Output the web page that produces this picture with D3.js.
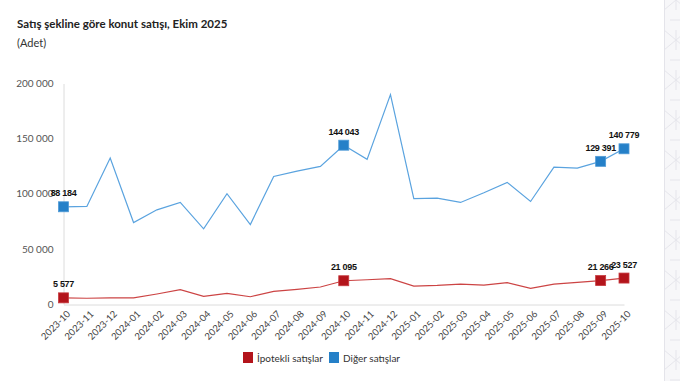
<!DOCTYPE html>
<html><head><meta charset="utf-8">
<script src="https://cdn.jsdelivr.net/npm/d3@7"></script>
<style>body{margin:0;background:#fff;}svg{display:block;}</style>
</head><body>
<svg id="c" width="680" height="381"></svg>
<script>
const months = ["2023-10","2023-11","2023-12","2024-01","2024-02","2024-03","2024-04","2024-05","2024-06","2024-07","2024-08","2024-09","2024-10","2024-11","2024-12","2025-01","2025-02","2025-03","2025-04","2025-05","2025-06","2025-07","2025-08","2025-09","2025-10"];
const ipotekli = [5577,5200,5500,5600,9100,13000,7000,9700,6600,11500,13300,15400,21095,22000,23000,16300,16900,18100,17200,19300,14200,18100,19700,21266,23527];
const diger = [88184,88500,132400,73900,85400,92100,68200,100000,72100,115700,120500,124800,144043,131200,190000,95500,96000,92100,100900,110300,93000,124200,123300,129391,140779];
const yTicks = [0,50000,100000,150000,200000];
const labelled = [0,12,23,24];
const seriesNames = ["İpotekli satışlar","Diğer satışlar"];

const svg = d3.select("#c");
const fmt = v => d3.format(",")(v).replace(/,/g," ");
const FONT = "Lato, Open Sans, sans-serif";

// decorative pattern on the right
const defs = svg.append("defs");
const pat = defs.append("pattern").attr("id","pt").attr("width",24).attr("height",40).attr("patternUnits","userSpaceOnUse").attr("x",664);
pat.append("rect").attr("width",24).attr("height",40).attr("fill","#f7f7f9");
pat.append("path").attr("d","M0 10 L12 0 L24 10 M0 30 L12 40 L24 30 M12 0 V10 M12 30 V40 M0 10 V30 M24 10 V30 M6 20 H18")
  .attr("stroke","#e6e6ec").attr("fill","none").attr("stroke-width",1);
svg.append("rect").attr("x",664).attr("y",0).attr("width",16).attr("height",381).attr("fill","url(#pt)");
svg.append("line").attr("x1",664.5).attr("x2",664.5).attr("y1",0).attr("y2",381).attr("stroke","#e4e4ea");

svg.append("text").attr("x",17).attr("y",28).text("Satış şekline göre konut satışı, Ekim 2025")
  .attr("font-family",FONT).attr("font-weight","bold").attr("font-size",11.5).attr("fill","#222");
svg.append("text").attr("x",17).attr("y",47).text("(Adet)")
  .attr("font-family",FONT).attr("font-size",11).attr("fill","#333");

const x = d3.scalePoint().domain(months).range([63.5,624]);
const y = d3.scaleLinear().domain([0,200000]).range([304,83.5]);

// axes
const yAxis = svg.append("g").attr("transform","translate(63.5,0)")
  .call(d3.axisLeft(y).tickValues(yTicks).tickSize(0).tickPadding(10).tickFormat(fmt));
yAxis.select(".domain").attr("stroke","#dcdcdc");
yAxis.selectAll("text").attr("font-family",FONT).attr("font-size",10).attr("fill","#555");

const xAxis = svg.append("g").attr("transform","translate(0,304.5)")
  .call(d3.axisBottom(x).tickSize(0).tickPadding(0));
xAxis.select(".domain").attr("stroke","#dcdcdc");
xAxis.selectAll("text")
  .attr("font-family",FONT).attr("font-size",9.5).attr("fill","#444")
  .attr("text-anchor","end").attr("dy",0).attr("y",0)
  .attr("transform","translate(7,10) rotate(-45)");

const series = [
  {name:seriesNames[1], vals:diger, line:"#5aa3df", mark:"#2580c8", stroke:"#4f9ad6"},
  {name:seriesNames[0], vals:ipotekli, line:"#cc4444", mark:"#b3141b", stroke:"#c63a3f"}
];
const lineGen = d3.line().x((d,i)=>x(months[i])).y(d=>y(d));
series.forEach(s=>{
  svg.append("path").datum(s.vals).attr("d",lineGen).attr("fill","none").attr("stroke",s.line).attr("stroke-width",1.2);
  const pts = labelled.map(i=>({i, v:s.vals[i]}));
  svg.selectAll(null).data(pts).enter().append("rect")
    .attr("x",d=>x(months[d.i])-5).attr("y",d=>y(d.v)-5).attr("width",10).attr("height",10)
    .attr("fill",s.mark).attr("stroke",s.stroke).attr("stroke-width",0.8);
  svg.selectAll(null).data(pts).enter().append("text")
    .attr("x",d=>x(months[d.i])).attr("y",d=>y(d.v)-10.5).attr("text-anchor","middle")
    .attr("font-family","Liberation Sans, Arial, sans-serif").attr("font-weight","bold").attr("font-size",9).attr("letter-spacing",-0.3).attr("fill","#111")
    .text(d=>fmt(d.v));
});

// legend
const leg = [{n:seriesNames[0],c:"#b3141b",x:243},{n:seriesNames[1],c:"#2580c8",x:329}];
leg.forEach(l=>{
  svg.append("rect").attr("x",l.x).attr("y",352).attr("width",10).attr("height",11).attr("fill",l.c);
  svg.append("text").attr("x",l.x+14).attr("y",361.5).text(l.n)
    .attr("font-family",FONT).attr("font-size",10).attr("fill","#333");
});
</script>
</body></html>
